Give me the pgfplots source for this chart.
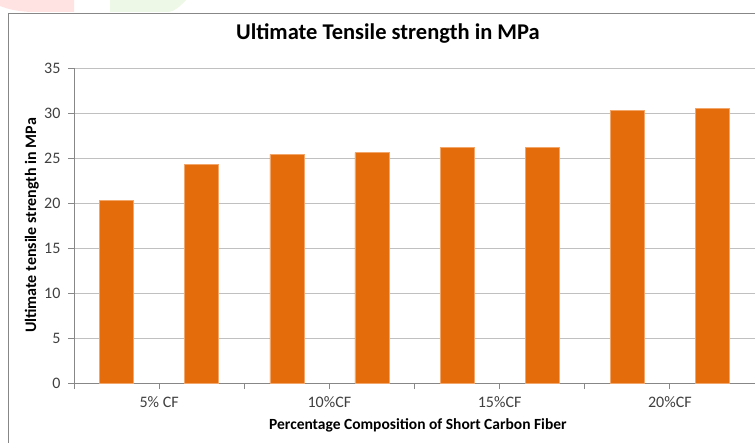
\documentclass[border=0pt]{standalone}
\usepackage{fontspec}
\setmainfont{Carlito}
\usepackage{pgfplots}
\pgfplotsset{compat=1.18}
\definecolor{barorange}{HTML}{E46C0A}
\definecolor{baredge}{HTML}{F2A66A}
\definecolor{gridgray}{HTML}{C0C0C0}
\definecolor{axisgray}{HTML}{878787}
\definecolor{ticktext}{HTML}{404040}
\definecolor{softpink}{HTML}{FFE3E3}
\definecolor{softgreen}{HTML}{EEF8E6}
\begin{document}
\begin{tikzpicture}[x=1pt,y=1pt]
\clip (0,0) rectangle (755,442);
\fill[white] (0,0) rectangle (755,442);
% faint shapes along the top edge
\fill[softpink] (0,442) -- (74,442) -- (74,430) -- (30,430) .. controls (15,431) and (8,433) .. (0,436) -- cycle;
\fill[softgreen] (110,442) -- (186,442) .. controls (180,436) and (176,431) .. (168,430) -- (110,430) -- cycle;
% chart frame
\draw[axisgray, line width=0.9pt] (8.3,-2) -- (8.3,428.7) -- (760,428.7);
\begin{axis}[
  at={(74pt,59pt)}, anchor=south west,
  scale only axis, width=681pt, height=315pt,
  xmin=-0.5, xmax=7.5, ymin=0, ymax=35,
  ytick={0,5,...,35},
  xtick={-0.5,0.5,...,7.5},
  xticklabels={,5\% CF,,10\%CF,,15\%CF,,20\%CF,},
  axis x line*=bottom, axis y line*=left,
  axis line style={axisgray, line width=0.8pt, -},
  tick style={axisgray, line width=0.8pt},
  major tick length=6pt, tick align=outside,
  ymajorgrids, grid style={gridgray, line width=0.9pt},
  /pgf/number format/assume math mode=true,
  tick label style={font=\fontsize{16}{19}\selectfont, text=ticktext},
  yticklabel style={xshift=-4pt},
  xticklabel style={yshift=-4pt},
  title={Ultimate Tensile strength in MPa},
  title style={font=\fontsize{22.5}{26}\selectfont\bfseries, at={(axis description cs:0.461,1.089)}, anchor=center},
  xlabel={Percentage Composition of Short Carbon Fiber},
  xlabel style={font=\fontsize{15.5}{18}\selectfont\bfseries, at={(axis description cs:0.505,-0.133)}, anchor=center},
  ylabel={Ultimate tensile strength in MPa},
  every axis y label/.style={font=\fontsize{16}{19}\selectfont\bfseries, at={(axis description cs:-0.0617,0.5)}, rotate=90, anchor=center},
  clip=false,
]
\addplot[ybar, bar width=34pt, fill=barorange, draw=baredge, line width=0.5pt]
  coordinates {(0,20.3) (1,24.3) (2,25.4) (3,25.6) (4,26.2) (5,26.2) (6,30.3) (7,30.5)};
\end{axis}
\end{tikzpicture}
\end{document}
